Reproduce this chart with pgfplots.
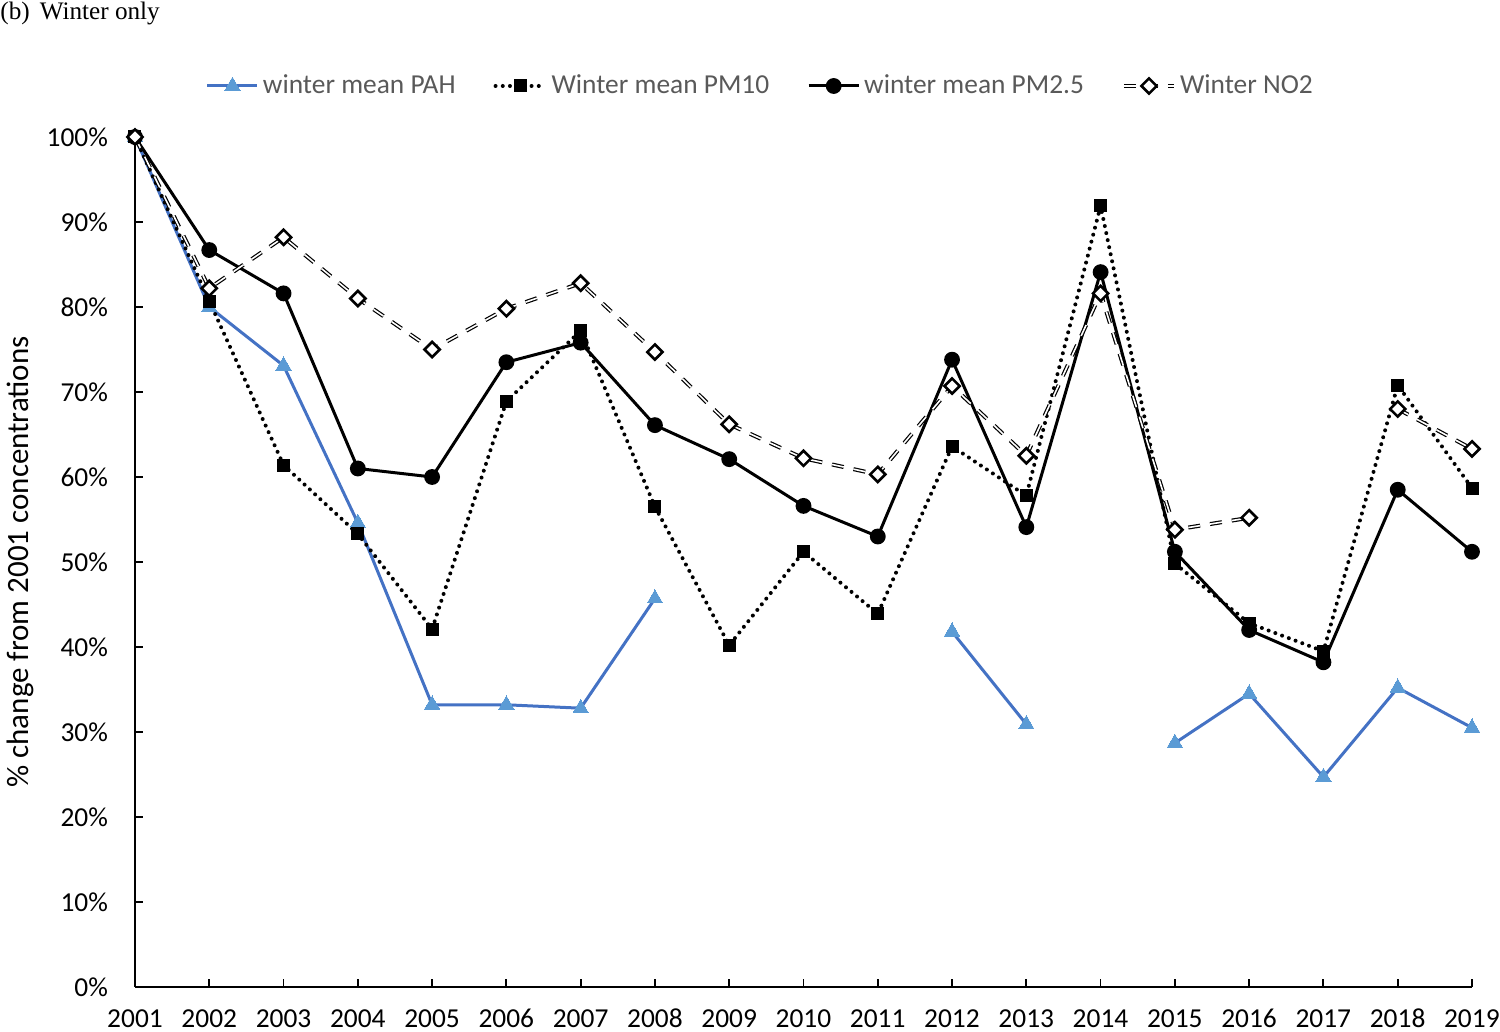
\documentclass[border=0pt]{standalone}
\usepackage{fontspec}
\setmainfont{Carlito}
\newfontfamily\timesfont{Liberation Serif}
\usepackage{pgfplots}
\usepackage{pgfplotstable}
\pgfplotsset{compat=1.18}
\definecolor{pahline}{HTML}{4472C4}
\definecolor{pahmark}{HTML}{5B9BD5}
\definecolor{legtext}{HTML}{595959}

\pgfplotstableread{
year pah pm10 pm25 no2
2001 100 100 100 100
2002 80.0 80.7 86.7 82.2
2003 73.1 61.4 81.6 88.2
2004 54.6 53.3 61.0 81.0
2005 33.2 42.1 60.0 75.0
2006 33.2 68.9 73.5 79.8
2007 32.8 77.2 75.8 82.8
2008 45.7 56.5 66.1 74.7
2009 nan 40.2 62.1 66.2
2010 nan 51.2 56.6 62.2
2011 nan 43.9 53.0 60.3
2012 41.8 63.6 73.8 70.7
2013 30.9 57.8 54.1 62.5
2014 nan 91.9 84.1 81.6
2015 28.7 49.8 51.2 53.8
2016 34.5 42.8 42.0 55.2
2017 24.7 39.5 38.2 nan
2018 35.2 70.8 58.5 68.0
2019 30.5 58.7 51.2 63.3
}\datatable

\begin{document}
\begin{tikzpicture}
\useasboundingbox (-67.5pt,-22.5pt) rectangle (682.5pt,493.5pt);
\begin{axis}[
  name=ax,
  at={(0,0)}, anchor=south west,
  scale only axis,
  width=668.5pt, height=425pt,
  xmin=2001, xmax=2019, ymin=0, ymax=100,
  xtick={2001,...,2019},
  ytick={0,10,...,100},
  axis x line*=bottom, axis y line*=left,
  axis line style={line width=0.9pt, black},
  tick style={line width=0.9pt, black},
  tick align=inside,
  major tick length=4.2pt,
  clip=false,
  unbounded coords=jump,
  /pgf/number format/assume math mode=true,
  /pgf/number format/1000 sep={},
  yticklabel={\pgfmathprintnumber{\tick}\%},
  typeset ticklabels with strut,
  tick label style={font=\fontsize{13.7}{16}\selectfont, black},
  xticklabel style={yshift=-5.5pt},
  yticklabel style={xshift=-10pt},
  ylabel={\% change from 2001 concentrations},
  ylabel style={at={(axis description cs:-0.086,0.5)}, anchor=center, font=\fontsize{15.5}{18}\selectfont},
  legend columns=4,
  legend cell align=left,
  legend style={at={(0.4685,1.06)}, anchor=center, draw=none, fill=none,
    font=\fontsize{13.7}{16}\selectfont, text=legtext,
    /tikz/every even column/.append style={column sep=17pt}},
  legend image code/.code={\draw[mark repeat=2,mark phase=2] plot coordinates {(0pt,0pt) (12.5pt,0pt) (25pt,0pt)};},
]
\addplot[pahline, line width=1.5pt, mark=triangle*, mark size=4.4pt,
  mark options={solid, fill=pahmark, draw=pahmark, line width=0pt}]
  table[x=year, y=pah] {\datatable};
\addlegendentry{winter mean PAH}
\addplot[black, line width=2pt, dash pattern=on 0pt off 3.6pt, line cap=round,
  mark=square*, mark size=3pt, mark options={solid, line cap=butt, line width=0pt}]
  table[x=year, y=pm10] {\datatable};
\addlegendentry{Winter mean PM10}
\addplot[black, line width=1.5pt, mark=*, mark size=3.2pt, mark options={solid}]
  table[x=year, y=pm25] {\datatable};
\addlegendentry{winter mean PM2.5}
\addplot[black, line width=0.6pt, double=white, double distance=0.8pt,
  dash pattern=on 6pt off 5pt,
  mark=diamond*, mark size=3.8pt,
  mark options={solid, fill=white, draw=black, line width=1.3pt, xscale=1.333}]
  table[x=year, y=no2] {\datatable};
\addlegendentry{Winter NO2}
\end{axis}
\node[anchor=north west, inner sep=0pt, font=\timesfont\fontsize{12.6}{15}\selectfont] at (-67.5pt,492.5pt) {(b)\hspace{5pt}Winter only};
\end{tikzpicture}
\end{document}
